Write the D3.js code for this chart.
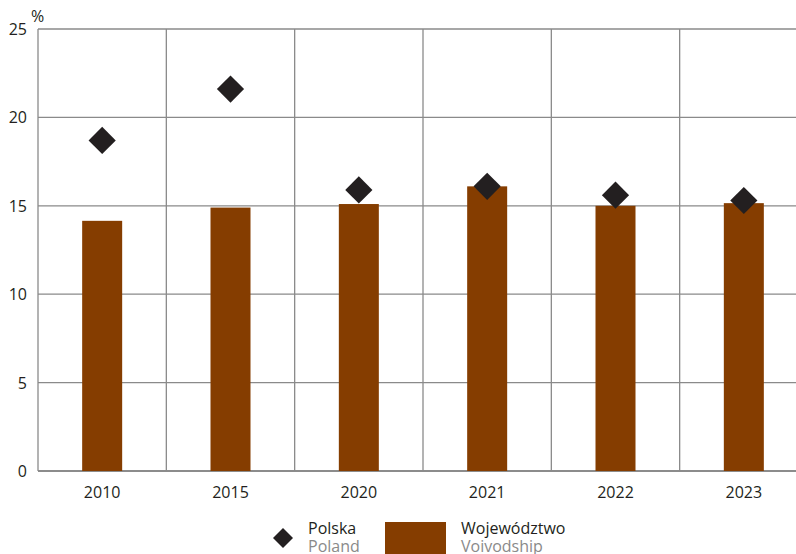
<!DOCTYPE html>
<html>
<head>
<meta charset="utf-8">
<script src="https://cdn.jsdelivr.net/npm/d3@7"></script>
<style>
  body { margin: 0; background: #fff; }
  svg { display: block; font-family: "Open Sans", "Noto Sans", sans-serif; }
</style>
</head>
<body>
<div id="chart"></div>
<script>
// dane
let years = ["2010", "2015", "2020", "2021", "2022", "2023"];
let wojewodztwo = [14.15, 14.9, 15.1, 16.1, 15.0, 15.15];
let polska = [18.7, 21.6, 15.9, 16.1, 15.6, 15.3];
let yTicks = [0, 5, 10, 15, 20, 25];

let width = 796, height = 554;
let margin = { left: 38, top: 29, right: 808, bottom: 471 };

let svg = d3.select("#chart")
            .append("svg")
            .attr("width", width)
            .attr("height", height);

let x = d3.scaleBand()
          .domain(years)
          .range([margin.left, margin.right])
          .paddingInner(0)
          .paddingOuter(0);

let y = d3.scaleLinear()
          .domain([0, 25])
          .range([margin.bottom, margin.top]);

let gridColor = "#8a8a8a";

// poziome linie siatki
svg.append("g")
   .selectAll("line")
   .data(yTicks)
   .join("line")
   .attr("x1", margin.left)
   .attr("x2", margin.right)
   .attr("y1", d => y(d))
   .attr("y2", d => y(d))
   .attr("stroke", d => d == 0 ? "#666" : gridColor)
   .attr("stroke-width", 1.3);

// pionowe linie
let xEdges = years.map(d => x(d)).concat([margin.right]);
svg.append("g")
   .selectAll("line")
   .data(xEdges)
   .join("line")
   .attr("x1", d => d)
   .attr("x2", d => d)
   .attr("y1", margin.top)
   .attr("y2", margin.bottom)
   .attr("stroke", gridColor)
   .attr("stroke-width", 1.3);

// słupki
let barW = 40;
svg.append("g")
   .selectAll("rect")
   .data(years)
   .join("rect")
   .attr("x", d => x(d) + x.bandwidth() / 2 - barW / 2)
   .attr("y", (d, i) => y(wojewodztwo[i]))
   .attr("width", barW)
   .attr("height", (d, i) => y(0) - y(wojewodztwo[i]))
   .attr("fill", "#853d00");

// romby - Polska
let diamond = d3.symbol().type(d3.symbolSquare).size(370);
svg.append("g")
   .selectAll("path")
   .data(years)
   .join("path")
   .attr("d", diamond)
   .attr("transform", (d, i) => "translate(" + (x(d) + x.bandwidth() / 2) + "," + y(polska[i]) + ") rotate(45)")
   .attr("fill", "#231f20");

// etykiety osi Y
svg.append("g")
   .selectAll("text")
   .data(yTicks)
   .join("text")
   .attr("x", 27)
   .attr("y", d => y(d) + 6)
   .attr("text-anchor", "end")
   .attr("font-size", 16)
   .attr("fill", "#231f20")
   .text(d => d);

svg.append("text")
   .attr("x", 31)
   .attr("y", 22)
   .attr("font-size", 16)
   .attr("fill", "#231f20")
   .text("%");

// etykiety osi X
svg.append("g")
   .selectAll("text")
   .data(years)
   .join("text")
   .attr("x", d => x(d) + x.bandwidth() / 2)
   .attr("y", 498)
   .attr("text-anchor", "middle")
   .attr("font-size", 16)
   .attr("fill", "#231f20")
   .text(d => d);

// legenda
let legend = svg.append("g");
legend.append("path")
      .attr("d", d3.symbol().type(d3.symbolSquare).size(200))
      .attr("transform", "translate(283,538) rotate(45)")
      .attr("fill", "#231f20");
legend.append("text").attr("x", 308).attr("y", 534).attr("font-size", 16).attr("fill", "#231f20").text("Polska");
legend.append("text").attr("x", 308).attr("y", 552).attr("font-size", 16).attr("fill", "#8a8a8a").text("Poland");

legend.append("rect")
      .attr("x", 385).attr("y", 522)
      .attr("width", 61).attr("height", 40)
      .attr("fill", "#853d00");
legend.append("text").attr("x", 461).attr("y", 534).attr("font-size", 16).attr("fill", "#231f20").text("Województwo");
legend.append("text").attr("x", 461).attr("y", 552).attr("font-size", 16).attr("fill", "#8a8a8a").text("Voivodship");
</script>
</body>
</html>
